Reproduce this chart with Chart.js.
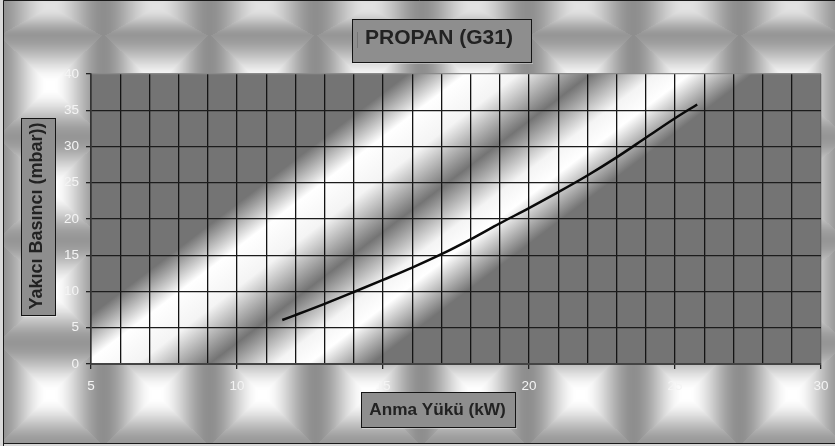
<!DOCTYPE html>
<html><head><meta charset="utf-8">
<style>html,body{margin:0;padding:0;background:#d8d8d8}#w{width:835px;height:446px;position:relative}</style>
<script src="https://cdn.jsdelivr.net/npm/chart.js@4"></script></head>
<body><div id="w"><canvas id="c" width="835" height="446"></canvas></div>
<script>
const loadKw=[11.55,12,13,14.04,15,16,17,18,19,20,21,22,23,24,25,25.76];
const pressureMbar=[6.07,6.75,8.3,10,11.6,13.3,15.15,17.2,19.4,21.5,23.7,26,28.5,31.2,33.9,35.8];
const xTickStep=1, yTickStep=5;
const chartTitle='PROPAN (G31)', xTitle='Anma Yükü (kW)', yTitle='Yakıcı Basıncı (mbar))';
const FONT='"Liberation Sans", Arial, sans-serif';
const BOX='#8e8e8e', EDGE='#141414';

function sstep(a,b,v){const t=Math.min(1,Math.max(0,(v-a)/(b-a)));return t*t*(3-2*t);}
// textured chart-area fill (pyramid tiles)
function makeTexture(){
  const W=835,H=446,cv=document.createElement('canvas');cv.width=W;cv.height=H;
  const g=cv.getContext('2d'),im=g.createImageData(W,H),D=im.data;
  const px=106,py=103,cx0=50,cy0=85;
  for(let y=0;y<H;y++)for(let x=0;x<W;x++){
    const dx=((x-cx0)%px+px*1.5)%px-px/2;
    const u=Math.abs(dx)/(px/2);
    let v,peak=255;
    if(y<36){v=Math.abs(y-6)/30;peak=226;}
    else{const dy=((y-cy0)%py+py*1.5)%py-py/2;v=Math.abs(dy)/(py/2);}
    const d=Math.min(1,Math.max(u,v)), low=u>v?142:150;
    const c=low+(peak-low)*(1-sstep(0.05,1,d));
    const i=(y*W+x)*4;D[i]=D[i+1]=D[i+2]=c;D[i+3]=255;
  }
  g.putImageData(im,0,0);
  return cv;
}
const texture=makeTexture();

function box(ctx,x0,y0,x1,y1){
  ctx.save();
  ctx.fillStyle='rgba(255,255,255,0.35)';ctx.fillRect(x0+1,y1,x1-x0,1);
  ctx.fillStyle=BOX;ctx.fillRect(x0,y0,x1-x0,y1-y0);
  ctx.strokeStyle=EDGE;ctx.lineWidth=1;ctx.strokeRect(x0+.5,y0+.5,x1-x0-1,y1-y0-1);
  ctx.restore();
}

const decor={
  id:'decor',
  beforeDraw(chart){
    const ctx=chart.ctx,a=chart.chartArea;
    ctx.save();
    ctx.drawImage(texture,0,0);
    // outer frame
    ctx.fillStyle='#d8d8d8';ctx.fillRect(0,0,3,446);ctx.fillRect(0,444,835,2);
    ctx.strokeStyle='#1a1a1a';ctx.lineWidth=1;
    ctx.beginPath();ctx.moveTo(3.5,446);ctx.lineTo(3.5,.5);ctx.lineTo(835,.5);ctx.moveTo(3,443.5);ctx.lineTo(835,443.5);ctx.stroke();
    // plot fill: diagonal bands
    const nx=0.76,ny=1,n2=nx*nx+ny*ny,t0=384,t1=646;
    const gr=ctx.createLinearGradient(nx*t0/n2,ny*t0/n2,nx*t1/n2,ny*t1/n2);
    const st=[[384,'#747474'],[428,'#ffffff'],[468,'#f4f4f4'],[523,'#747474'],[572,'#f4f4f4'],[598,'#ffffff'],[646,'#747474']];
    st.forEach(s=>gr.addColorStop((s[0]-t0)/(t1-t0),s[1]));
    ctx.fillStyle=gr;ctx.fillRect(a.left,a.top,a.right-a.left,a.bottom-a.top);
    ctx.restore();
  },
  afterLayout(chart){
    const xs=chart.scales.x,ys=chart.scales.y,tb=chart.titleBlock;
    if(!xs.__w){
      xs.__w=true;
      const ox=xs.drawTitle;
      xs.drawTitle=function(){const c=this.ctx;box(c,361,392,516,428);c.save();c.translate(-18.5,0);ox.call(this);c.restore();};
      const oy=ys.drawTitle;
      ys.drawTitle=function(){const c=this.ctx;box(c,21,118,56,316);c.save();c.translate(0,-3);oy.call(this);c.restore();};
    }
    if(!tb.__w){
      tb.__w=true;
      const ot=tb.draw;
      tb.draw=function(){const c=this.ctx;box(c,352,19,532,63);
        c.save();c.fillStyle='#777';c.fillRect(357,32,1,16);c.restore();
        c.save();c.translate(439-(this.left+this.right)/2,0);ot.call(this);c.restore();};
    }
  }
};

new Chart(document.getElementById('c'),{
  type:'scatter',
  data:{datasets:[{data:loadKw.map((x,i)=>({x,y:pressureMbar[i]})),showLine:true,borderColor:'#0a0a0a',borderWidth:2.5,pointRadius:0,cubicInterpolationMode:'monotone',fill:false}]},
  plugins:[decor],
  options:{
    responsive:false,animation:false,devicePixelRatio:1,
    layout:{padding:{left:0,right:14,top:0,bottom:0}},
    plugins:{
      legend:{display:false},tooltip:{enabled:false},
      title:{display:true,text:chartTitle,color:'#222',font:{family:FONT,size:21,weight:'bold'},padding:{top:25.4,bottom:23.4}}
    },
    scales:{
      x:{type:'linear',min:5,max:30,
        afterFit(s){s.height=82;s.paddingLeft=0;s.paddingRight=0;},
        ticks:{stepSize:xTickStep,autoSkip:false,maxRotation:0,color:'#f4f4f4',font:{family:FONT,size:13.5},padding:9,
          callback:v=>v%5===0?String(v):''},
        grid:{color:c=>c.tick&&c.tick.value===30?'#666':'#141414',lineWidth:1.3,tickLength:5,tickColor:c=>c.tick&&c.tick.value%5===0?'#222':'rgba(0,0,0,0)'},
        border:{color:'#444',width:2},
        title:{display:true,text:xTitle,color:'#222',font:{family:FONT,size:17.2,weight:'bold'},padding:{top:0,bottom:25.7}}},
      y:{type:'linear',min:0,max:40,
        afterFit(s){s.width=91;s.paddingTop=0;s.paddingBottom=0;},
        ticks:{stepSize:yTickStep,color:'#f4f4f4',font:{family:FONT,size:13.5},padding:7},
        grid:{color:c=>c.tick&&c.tick.value===40?'#8a8a8a':'#1c1c1c',lineWidth:1.3,tickLength:5,tickColor:'#222'},
        border:{color:'#333',width:1.5},
        title:{display:true,text:yTitle,color:'#222',font:{family:FONT,size:18,weight:'bold'},padding:{top:26.2,bottom:0}}}
    }
  }
});
</script></body></html>
